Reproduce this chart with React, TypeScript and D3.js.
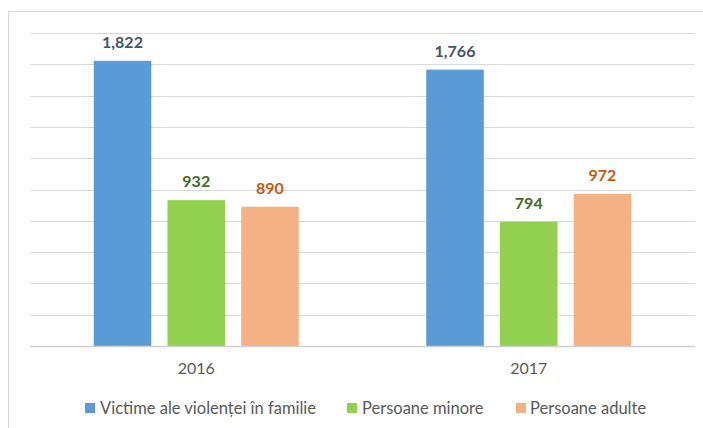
import React from "react";
import * as d3 from "d3";

const categories = ["2016", "2017"];
const seriesNames = ["Victime ale violenței în familie", "Persoane minore", "Persoane adulte"];
const victime = [1822, 1766];
const minore = [932, 794];
const adulte = [890, 972];
const yTicks = [0, 200, 400, 600, 800, 1000, 1200, 1400, 1600, 1800, 2000];

const colors = ["#5B9BD5", "#92D050", "#F4B183"];
const labelColors = ["#44546A", "#3F6B25", "#C55A11"];

export default function App() {
  const W = 703, H = 428;
  const left = 30, right = 695, top = 33, bottom = 346;
  const x0 = d3.scaleBand().domain(categories).range([left, right]).paddingInner(0).paddingOuter(0);
  const groupW = 205;
  const x1 = d3.scaleBand().domain(seriesNames).range([0, groupW]).paddingInner(0.22).paddingOuter(0);
  const y = d3.scaleLinear().domain([0, 2000]).range([bottom, top]);
  const series = [victime, minore, adulte];
  const fmt = d3.format(",");
  const font = "Lato, 'Open Sans', sans-serif";

  const legendItems = [
    { sx: 85, tx: 100 },
    { sx: 347, tx: 362 },
    { sx: 516, tx: 530 },
  ];

  return (
    <svg width={W} height={H} style={{ position: "absolute", left: 0, top: 0, display: "block" }} fontFamily={font}>
      <rect x={0} y={0} width={W} height={H} fill="#fff" />
      <rect x={8.5} y={11.5} width={720} height={440} fill="none" stroke="#D9D9D9" strokeWidth={1} />
      {yTicks.slice(1).map((t) => (
        <line key={t} x1={left} x2={right} y1={Math.round(y(t)) + 0.5} y2={Math.round(y(t)) + 0.5} stroke="#D9D9D9" strokeWidth={1} />
      ))}
      {categories.map((c, ci) => {
        const gx = (x0(c) as number) + (x0.bandwidth() - groupW) / 2;
        return (
          <g key={c}>
            {series.map((s, si) => {
              const bx = gx + (x1(seriesNames[si]) as number);
              const bw = x1.bandwidth();
              return (
                <g key={si}>
                  <rect x={bx} y={y(s[ci])} width={bw} height={bottom - y(s[ci])} fill={colors[si]} />
                  <text x={bx + bw / 2} y={y(s[ci]) - 13} textAnchor="middle" fontSize={16} fontWeight="bold" fill={labelColors[si]}>
                    {fmt(s[ci])}
                  </text>
                </g>
              );
            })}
            <text x={(x0(c) as number) + x0.bandwidth() / 2} y={374} textAnchor="middle" fontSize={16} fill="#595959">
              {c}
            </text>
          </g>
        );
      })}
      <line x1={left} x2={right} y1={bottom + 0.5} y2={bottom + 0.5} stroke="#D0D0D0" strokeWidth={1.5} />
      {seriesNames.map((n, i) => (
        <g key={n}>
          <rect x={legendItems[i].sx} y={403} width={10} height={10} fill={colors[i]} />
          <text x={legendItems[i].tx} y={413.5} fontSize={16.5} fill="#595959">
            {n}
          </text>
        </g>
      ))}
    </svg>
  );
}
